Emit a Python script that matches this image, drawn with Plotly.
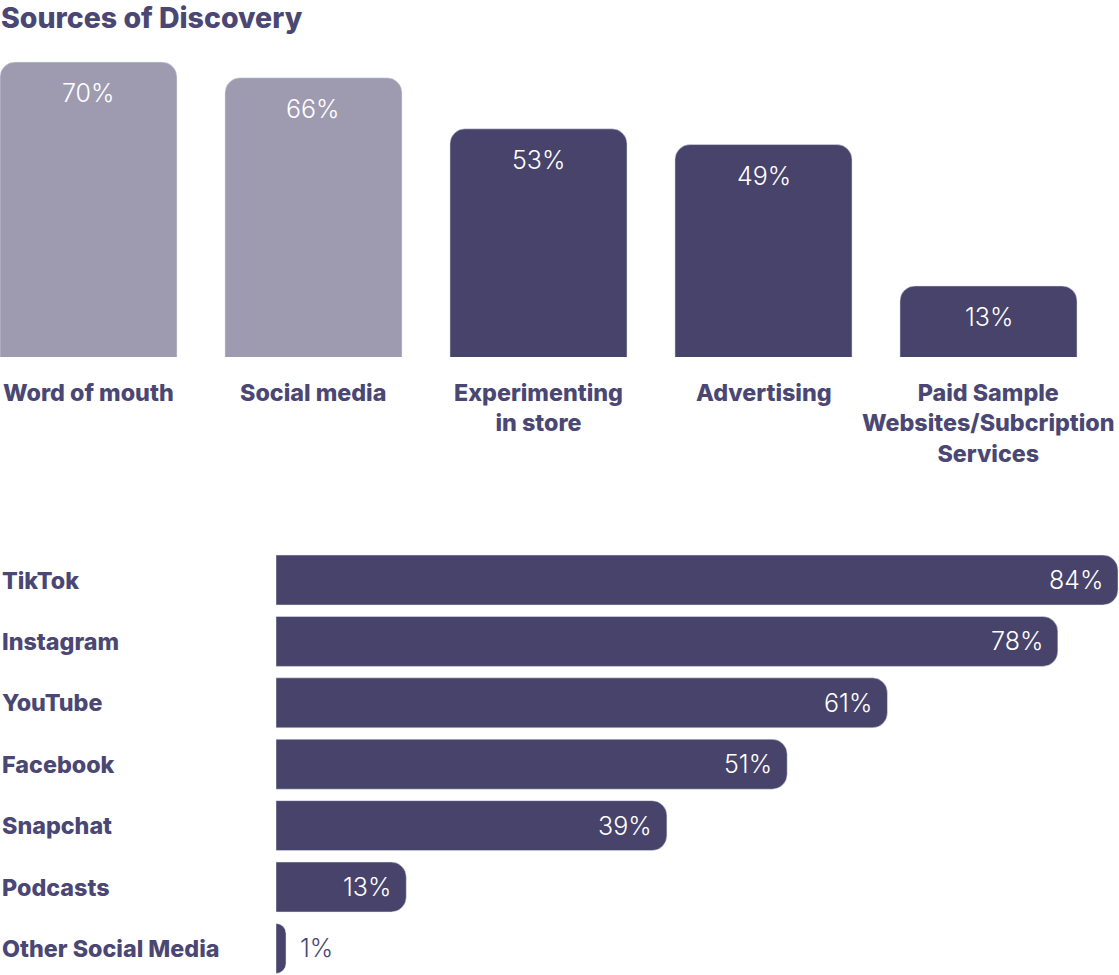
import plotly.graph_objects as go

# ---- data ----
title = "Sources of Discovery"
sources = ["Word of mouth", "Social media", "Experimenting<br>in store", "Advertising",
           "Paid Sample<br>Websites/Subcription<br>Services"]
source_values = [70, 66, 53, 49, 13]
platforms = ["TikTok", "Instagram", "YouTube", "Facebook", "Snapchat", "Podcasts", "Other Social Media"]
platform_values = [84, 78, 61, 51, 39, 13, 1]

DARK = "#48436a"
LIGHT = "#9e9bb1"
TEXT = "#4b4774"
FONT = "Inter, Lato, sans-serif"
Y_FLOOR = -5.1    # visible axis floor
BAR_BASE = -40.0  # bars start below the floor (clipped away) so only tops are rounded

src_colors = [LIGHT, LIGHT, DARK, DARK, DARK]

fig = go.Figure()
fig.add_trace(go.Bar(
    x=list(range(len(sources))), y=[v - BAR_BASE for v in source_values], base=BAR_BASE,
    marker_color=src_colors,
    width=0.787, xaxis="x", yaxis="y", showlegend=False, hoverinfo="skip"))
fig.add_trace(go.Bar(
    y=platforms, x=platform_values, orientation="h", marker_color=DARK,
    width=0.814, xaxis="x2", yaxis="y2", showlegend=False, hoverinfo="skip"))

ann = []
ann.append(dict(text=title, xref="paper", yref="paper", x=0, y=1 - 17/975,
                xanchor="left", yanchor="middle", showarrow=False, borderpad=0,
                font=dict(family=FONT, size=28.5, color=TEXT, weight=800)))
for i, (s, v) in enumerate(zip(sources, source_values)):
    ann.append(dict(text=f"{v}%", x=i, y=v, xref="x", yref="y", yshift=-31,
                    xanchor="center", yanchor="middle", showarrow=False,
                    font=dict(family=FONT, size=25, color="white", weight=300)))
    ann.append(dict(text=s, x=i, y=Y_FLOOR, xref="x", yref="y", yshift=-19,
                    xanchor="center", yanchor="top", showarrow=False, align="center",
                    font=dict(family=FONT, size=23.3, color=TEXT, weight=800)))
for p, v in zip(platforms, platform_values):
    ann.append(dict(text=p, x=0, y=p, xref="paper", yref="y2",
                    xanchor="left", yanchor="middle", showarrow=False,
                    font=dict(family=FONT, size=23.3, color=TEXT, weight=800)))
    inside = v >= 5
    ann.append(dict(text=f"{v}%", x=v, y=p, xref="x2", yref="y2",
                    xshift=-13 if inside else 12,
                    xanchor="right" if inside else "left", yanchor="middle", showarrow=False,
                    font=dict(family=FONT, size=25, color="white" if inside else TEXT, weight=300)))

fig.update_layout(
    width=1119, height=975, margin=dict(l=0, r=0, t=0, b=0),
    paper_bgcolor="white", plot_bgcolor="white",
    barcornerradius=15,
    xaxis=dict(domain=[0, 1], range=[-0.3933, 4.58], visible=False),
    yaxis=dict(domain=[0.6338, 1], range=[Y_FLOOR, 85.8], visible=False),
    xaxis2=dict(domain=[276/1119, 1], range=[0, 84.1], visible=False, anchor="y2"),
    yaxis2=dict(domain=[0, 0.4369], range=[6.433, -0.505], visible=False, anchor="x2",
                type="category"),
    annotations=ann,
)

fig.write_html("out.html", config={"displayModeBar": False},
               post_script="document.body.style.margin='0';document.body.style.overflow='hidden';")
